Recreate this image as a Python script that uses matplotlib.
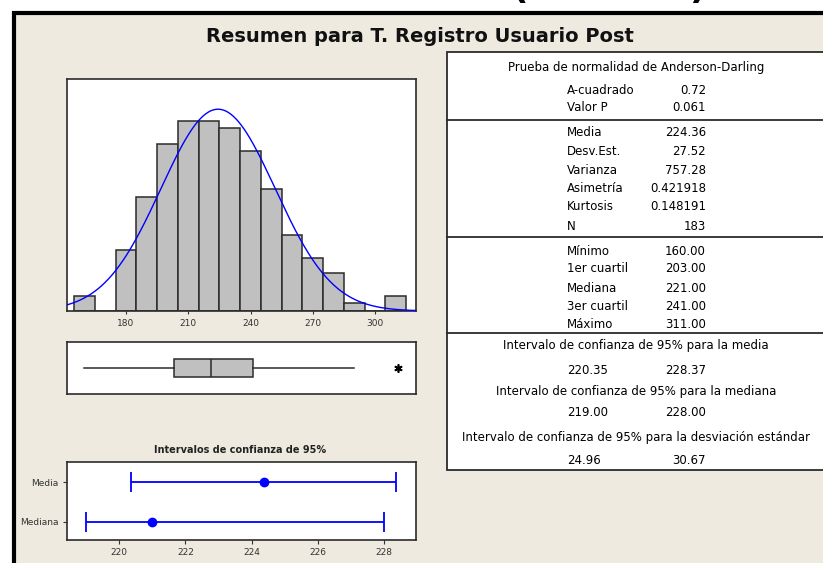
import matplotlib
matplotlib.use("Agg")
import matplotlib.pyplot as plt
import numpy as np
from matplotlib.patches import Rectangle
from matplotlib.lines import Line2D


W, H = 823, 563

TITLE = "Resumen para T. Registro Usuario Post"

# Histogram: bin centres (width 10) and counts
bin_centers = [160, 170, 180, 190, 200, 210, 220, 230, 240, 250, 260, 270, 280, 290, 300, 310]
bin_counts = [2, 0, 8, 15, 22, 25, 25, 24, 21, 16, 10, 7, 5, 1, 0, 2]
bin_width = 10
hist_ticks = [180, 210, 240, 270, 300]

# Summary statistics
ad_labels = ["A-cuadrado", "Valor P"]
ad_values = ["0.72", "0.061"]
mom_labels = ["Media", "Desv.Est.", "Varianza", "Asimetría", "Kurtosis", "N"]
mom_values = ["224.36", "27.52", "757.28", "0.421918", "0.148191", "183"]
quant_labels = ["Mínimo", "1er cuartil", "Mediana", "3er cuartil", "Máximo"]
quant_values = [160.00, 203.00, 221.00, 241.00, 311.00]

mean_val = 224.36
std_val = 27.52
n_obs = 183

# Boxplot (upper whisker ends at the largest non-outlier)
whisker_hi = 290
outliers = [311]

# 95% confidence intervals
ci_names = ["Media", "Mediana"]
ci_center = [224.36, 221.00]
ci_low = [220.35, 219.00]
ci_high = [228.37, 228.00]
ci_std = [24.96, 30.67]
ci_ticks = [220, 222, 224, 226, 228]

BG = "#EEEAE0"
GRAY = "#C0C0C0"
EDGE = "#2b2b2b"
BLUE = "#0000FF"


def fx(px):
    return px / W


def fy(py):
    return 1 - py / H


def add_axes_px(fig, left, top, right, bottom):
    return fig.add_axes([fx(left), fy(bottom), (right - left) / W, (bottom - top) / H])


def style_spines(ax):
    for s in ax.spines.values():
        s.set_color(EDGE)
        s.set_linewidth(1.2)


def main():
    plt.rcParams["font.family"] = ["DejaVu Sans"]
    fig = plt.figure(figsize=(W / 100, H / 100), dpi=100)
    fig.patch.set_facecolor("white")

    # outer panel frame
    fig.patches.append(Rectangle((fx(14), fy(H + 20)), fx(W + 40), (H + 20 - 13) / H,
                                 transform=fig.transFigure, facecolor=BG,
                                 edgecolor="black", linewidth=3.0, zorder=-10))
    # cut-off heading above the frame
    for xp, ch in [(520, "("), (697, ")")]:
        fig.text(fx(xp), fy(-2), ch, fontsize=26, fontweight="bold",
                 ha="center", va="baseline", color="black")

    fig.text(fx(420), fy(36), TITLE, ha="center", va="center", fontsize=14,
             fontweight="bold", color="#111111",
             family=["DejaVu Sans Condensed", "DejaVu Sans"])

    # ---- histogram with fitted normal curve
    ax = add_axes_px(fig, 67, 79, 416, 311)
    ax.bar(bin_centers, bin_counts, width=bin_width, color=GRAY,
           edgecolor=EDGE, linewidth=1.1, zorder=2)
    xs = np.linspace(150, 320, 400)
    pdf = np.exp(-0.5 * ((xs - mean_val) / std_val) ** 2) / (std_val * np.sqrt(2 * np.pi))
    ax.plot(xs, pdf * n_obs * bin_width, color=BLUE, linewidth=1.0, zorder=3)
    ax.set_xlim(151.6, 319.7)
    ax.set_ylim(0, 30.5)
    ax.set_yticks([])
    ax.set_xticks(hist_ticks)
    ax.tick_params(axis="x", labelsize=6.5, length=2, colors="#333333", pad=4)
    style_spines(ax)

    # ---- boxplot
    axb = add_axes_px(fig, 67, 342, 416, 394)
    stats = [dict(med=quant_values[2], q1=quant_values[1], q3=quant_values[3],
                  whislo=quant_values[0], whishi=whisker_hi, fliers=outliers)]
    axb.bxp(stats, orientation="horizontal", widths=0.35, patch_artist=True,
            showcaps=False,
            boxprops=dict(facecolor=GRAY, edgecolor=EDGE, linewidth=1.1),
            medianprops=dict(color=EDGE, linewidth=1.1),
            whiskerprops=dict(color=EDGE, linewidth=1.1),
            flierprops=dict(marker=(6, 2, 0), markersize=6, markeredgecolor="black",
                            markeredgewidth=1.2))
    axb.set_xlim(151.6, 319.7)
    axb.set_ylim(0.5, 1.5)
    axb.set_xticks([])
    axb.set_yticks([])
    style_spines(axb)

    # ---- confidence intervals
    axc = add_axes_px(fig, 66.7, 461.7, 416, 540)
    ypos = [1, 0]
    for y, c, lo, hi in zip(ypos, ci_center, ci_low, ci_high):
        axc.errorbar([c], [y], xerr=[[c - lo], [hi - c]], fmt="o", color=BLUE,
                     markersize=6, capsize=7, elinewidth=1.3, capthick=1.3)
    axc.set_xlim(218.41, 228.97)
    axc.set_ylim(-0.465, 1.523)
    axc.set_xticks(ci_ticks)
    axc.set_yticks(ypos)
    axc.set_yticklabels(ci_names)
    axc.tick_params(labelsize=6.5, length=3, colors="#333333", pad=3)
    style_spines(axc)
    fig.text(fx(240), fy(450), "Intervalos de confianza de 95%", ha="center",
             va="center", fontsize=7, fontweight="bold", color="#222222")

    # ---- statistics table
    fig.patches.append(Rectangle((fx(447), fy(470)), fx(W), (470 - 52) / H,
                                 transform=fig.transFigure, facecolor="white",
                                 edgecolor=EDGE, linewidth=1.3, zorder=-5))
    for yl in [120, 237, 333]:
        fig.lines.append(Line2D([fx(447), fx(W + 5)], [fy(yl), fy(yl)],
                                transform=fig.transFigure, color=EDGE, linewidth=1.3))

    fs = 8.5
    lx, vx = 567, 706
    fig.text(fx(636), fy(68), "Prueba de normalidad de Anderson-Darling",
             ha="center", va="center", fontsize=fs)
    rows = list(zip([90, 108], ad_labels, ad_values))
    rows += list(zip([133, 152, 170, 189, 207, 226], mom_labels, mom_values))
    rows += list(zip([252, 269, 288, 306, 324], quant_labels,
                     ["%.2f" % v for v in quant_values]))
    for y, lab, val in rows:
        fig.text(fx(lx), fy(y), lab, ha="left", va="center", fontsize=fs)
        fig.text(fx(vx), fy(y), val, ha="right", va="center", fontsize=fs)

    ci_rows = [
        (346, 370, "Intervalo de confianza de 95% para la media", ci_low[0], ci_high[0]),
        (391, 413, "Intervalo de confianza de 95% para la mediana", ci_low[1], ci_high[1]),
        (437, 460, "Intervalo de confianza de 95% para la desviación estándar",
         ci_std[0], ci_std[1]),
    ]
    for yh, yv, head, lo, hi in ci_rows:
        fig.text(fx(636), fy(yh), head, ha="center", va="center", fontsize=fs)
        fig.text(fx(lx), fy(yv), "%.2f" % lo, ha="left", va="center", fontsize=fs)
        fig.text(fx(vx), fy(yv), "%.2f" % hi, ha="right", va="center", fontsize=fs)

    fig.savefig("out.png", dpi=100, facecolor=fig.get_facecolor())


if __name__ == "__main__":
    main()
